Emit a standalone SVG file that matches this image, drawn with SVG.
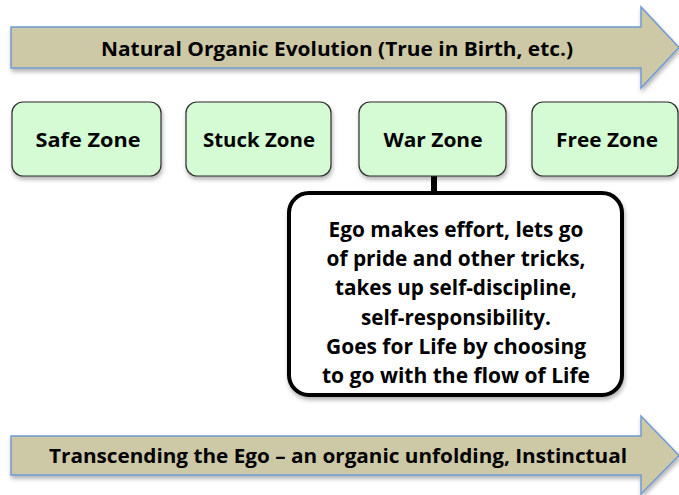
<svg xmlns="http://www.w3.org/2000/svg" width="679" height="495" viewBox="0 0 679 495">
<defs>
<filter id="sh" x="-10%" y="-20%" width="120%" height="150%">
<feDropShadow dx="1" dy="3" stdDeviation="2" flood-color="#000" flood-opacity="0.3"/>
</filter>
<style>
.arrow{fill:#cdc8a6;stroke:#6f9bd3;stroke-width:1.5;filter:url(#sh)}
.zone{fill:#d4fbd4;stroke:#2e2e2e;stroke-width:1.2;filter:url(#sh)}
.call{fill:#ffffff;stroke:#000;stroke-width:4;filter:url(#sh)}
text{font-family:"Open Sans","Liberation Sans",sans-serif;font-weight:700;fill:#000;text-anchor:middle}
.t1{font-size:19.5px}
.t2{font-size:21px}
.conn{stroke:#000;stroke-width:6;fill:none}
</style>
</defs>
<rect width="679" height="495" fill="#fff"/>
<g id="top-arrow">
<path class="arrow" d="M11,27 H641 V7 L679,47.5 L641,88 V68 H11 Z"/>
<text class="t1" x="337" y="56" textLength="472" lengthAdjust="spacingAndGlyphs">Natural Organic Evolution (True in Birth, etc.)</text>
</g>
<g id="connectors">
<line class="conn" x1="434" y1="176" x2="434" y2="194"/>
</g>
<g id="safe-zone">
<rect class="zone" x="12" y="102" width="149" height="74" rx="11"/>
<text class="t1" x="88" y="147" textLength="105" lengthAdjust="spacingAndGlyphs">Safe Zone</text>
</g>
<g id="stuck-zone">
<rect class="zone" x="186" y="102" width="145" height="74" rx="11"/>
<text class="t1" x="259" y="147" textLength="112" lengthAdjust="spacingAndGlyphs">Stuck Zone</text>
</g>
<g id="war-zone">
<rect class="zone" x="359" y="102" width="147" height="74" rx="11"/>
<text class="t1" x="433" y="147" textLength="99" lengthAdjust="spacingAndGlyphs">War Zone</text>
</g>
<g id="free-zone">
<rect class="zone" x="532" y="102" width="146" height="74" rx="11"/>
<text class="t1" x="607" y="147" textLength="102" lengthAdjust="spacingAndGlyphs">Free Zone</text>
</g>
<g id="callout">
<rect class="call" x="289" y="193" width="333" height="202" rx="20"/>
<text class="t2" x="456" y="237" textLength="255" lengthAdjust="spacingAndGlyphs">Ego makes effort, lets go</text>
<text class="t2" x="456" y="266" textLength="259" lengthAdjust="spacingAndGlyphs">of pride and other tricks,</text>
<text class="t2" x="456" y="295" textLength="242" lengthAdjust="spacingAndGlyphs">takes up self-discipline,</text>
<text class="t2" x="456" y="325" textLength="190" lengthAdjust="spacingAndGlyphs">self-responsibility.</text>
<text class="t2" x="456" y="354" textLength="260" lengthAdjust="spacingAndGlyphs">Goes for Life by choosing</text>
<text class="t2" x="456" y="383" textLength="268" lengthAdjust="spacingAndGlyphs">to go with the flow of Life</text>
</g>
<g id="bottom-arrow">
<path class="arrow" d="M11,436 H641 V416 L679,455.5 L641,494 V475 H11 Z"/>
<text class="t1" x="338" y="463" textLength="578" lengthAdjust="spacingAndGlyphs">Transcending the Ego – an organic unfolding, Instinctual</text>
</g>
</svg>
